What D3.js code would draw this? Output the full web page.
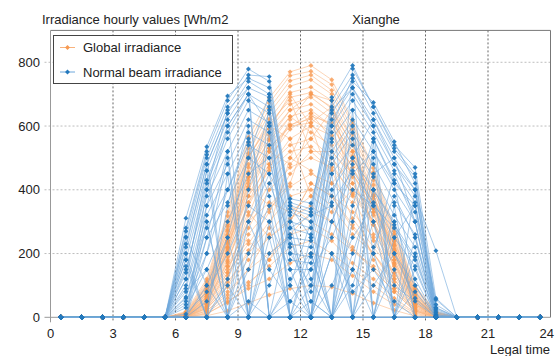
<!DOCTYPE html>
<html><head><meta charset="utf-8">
<script src="https://cdn.jsdelivr.net/npm/d3@7"></script>
<style>body{margin:0;background:#fff}svg{display:block;font-family:"Liberation Sans",Arial,sans-serif}</style>
</head><body><svg id="c" width="555" height="356"></svg>
<script>
const dayHours = [6.5,7.5,8.5,9.5,10.5,11.5,12.5,13.5,14.5,15.5,16.5,17.5,18.5];
const nightHours = [0.5,1.5,2.5,3.5,4.5,5.5,19.5,20.5,21.5,22.5,23.5];
const xTicks = [0,3,6,9,12,15,18,21,24];
const yTicks = [0,200,400,600,800];

const globalDays = [
[18,120,330,565,688,770,790,745,615,468,280,98,18],
[15,112,318,548,672,758,772,730,605,455,270,92,16],
[14,105,300,530,655,742,760,712,590,440,262,88,15],
[12,98,290,515,640,725,745,700,575,430,255,82,14],
[10,92,275,498,622,705,722,680,560,415,245,78,12],
[12,100,285,505,600,690,705,655,540,400,238,75,12],
[8,85,260,470,590,668,690,640,520,385,225,70,10],
[9,80,250,455,572,650,668,622,505,372,215,65,10],
[6,72,235,440,555,630,650,600,490,360,205,60,8],
[5,65,220,420,530,605,622,580,470,342,195,55,6],
[4,60,205,380,480,540,560,500,400,300,170,50,5],
[3,55,190,360,460,520,535,480,385,290,165,45,4],
[5,70,240,410,350,420,610,660,560,330,150,40,3],
[2,40,150,300,420,500,460,380,330,250,140,35,3],
[3,50,180,330,250,300,420,380,290,200,120,30,2],
[2,30,120,260,340,410,450,420,360,180,90,25,2],
[1,25,100,210,300,380,400,350,260,200,110,22,1],
[2,45,160,240,180,260,330,300,210,150,80,18,1],
[1,20,80,150,200,260,280,240,170,120,60,15,0],
[0,15,60,110,160,220,240,200,150,100,50,12,0],
[0,10,50,90,120,170,200,180,130,80,40,8,0],
[0,5,20,45,70,90,100,95,75,45,22,4,0],
[3,60,220,450,590,700,600,420,500,380,200,55,4],
[4,75,230,380,520,480,560,650,540,260,170,45,3],
[2,35,140,320,480,620,700,680,420,300,120,30,2],
[5,85,255,480,600,560,380,330,400,340,230,60,6],
[1,30,110,200,280,500,640,560,450,350,180,40,2],
[6,95,270,500,610,680,520,460,310,220,140,42,5],
[0,20,70,150,260,350,300,260,210,160,90,20,1],
[2,50,170,350,470,560,600,570,470,360,210,60,6],
[1,35,130,280,400,470,500,470,390,300,180,50,4],
[3,55,200,400,520,600,640,600,500,380,225,68,8],
[4,65,210,430,540,630,580,540,450,330,200,60,6],
[0,12,45,100,180,300,420,380,280,200,100,25,1],
[3,48,160,300,360,330,380,500,420,320,190,55,5],
[2,40,140,230,330,450,520,520,440,290,160,40,3],
[5,78,240,440,560,650,700,660,380,240,130,35,2],
[1,28,95,180,250,310,350,300,220,150,80,20,1],
[4,62,215,405,530,600,610,520,450,350,210,62,7],
[2,45,175,360,500,590,630,610,520,400,240,72,9]
];

const beamDays = [
[280,520,680,779,740,350,330,680,790,660,540,470,60],
[250,500,660,760,755,360,340,660,760,640,520,440,40],
[311,535,694,750,720,340,320,640,740,674,551,420,30],
[220,480,640,740,700,330,300,620,720,620,500,400,25],
[200,460,620,720,690,372,358,600,700,600,480,380,209],
[180,430,600,700,660,300,280,580,680,580,460,360,20],
[150,400,560,680,640,280,260,560,650,560,430,330,15],
[120,380,520,650,610,250,240,520,620,520,400,300,10],
[100,350,480,620,580,230,220,480,580,480,360,260,8],
[90,320,450,580,540,200,190,450,540,440,320,220,5],
[60,280,400,540,500,180,170,400,500,400,290,190,3],
[40,250,360,500,450,150,150,360,460,360,250,160,0],
[0,0,120,300,450,320,120,0,200,400,300,120,0],
[252,100,0,0,200,250,80,500,600,200,0,0,0],
[64,300,0,50,0,100,300,0,350,560,420,100,0],
[0,200,500,0,300,0,0,200,0,0,250,350,55],
[180,0,350,600,0,120,200,0,100,300,0,200,0],
[0,0,0,150,420,260,0,300,480,0,150,0,0],
[0,50,250,0,0,0,100,450,0,220,380,250,0],
[120,460,0,400,650,0,0,0,300,500,0,80,0],
[0,0,0,0,0,50,150,250,400,350,200,60,0],
[0,0,0,0,0,0,0,0,0,0,0,0,0],
[200,0,0,200,350,0,250,600,750,0,0,150,0],
[0,350,600,700,0,0,0,0,150,450,500,300,0],
[80,150,300,450,500,220,50,0,0,100,200,100,0],
[0,0,0,0,100,280,320,350,0,0,0,0,0],
[230,480,640,0,0,0,0,0,0,0,0,0,0],
[0,0,0,0,0,0,0,0,500,620,480,400,30],
[160,0,450,0,600,0,200,0,650,0,350,0,0],
[0,300,0,550,0,300,0,550,0,400,0,250,0],
[50,200,400,560,380,100,0,380,560,300,100,50,0],
[140,420,580,700,600,200,100,300,450,520,420,350,0],
[0,0,100,0,250,0,50,0,150,0,300,0,0],
[10,80,200,350,300,150,0,100,250,350,280,180,5],
[0,100,250,500,700,350,250,0,0,200,450,300,0],
[0,400,650,720,0,0,0,0,0,0,0,0,0],
[0,0,0,0,0,0,0,650,720,600,0,0,0],
[30,150,0,300,150,50,0,200,80,150,50,0,0],
[0,250,520,0,680,0,0,690,0,550,0,400,0],
[270,510,0,0,0,0,0,0,780,660,530,450,0]
];

const seriesNames = ["Global irradiance","Normal beam irradiance"];
const strokeCols = ["#f9b27c","#6fa8dc"];
const markCols = ["#f79a52","#2479bd"];

const svg = d3.select("#c");
const L = 50.5, R = 550.5, T = 30.4, B = 317.3;
const x = d3.scaleLinear().domain([0,24]).range([L,R]);
const y = d3.scaleLinear().domain([0,900]).range([B,T]);

// grid
svg.append("g").selectAll("line").data(yTicks.filter(d=>d>0)).join("line")
  .attr("x1",L-6).attr("x2",R).attr("y1",d=>y(d)).attr("y2",d=>y(d))
  .attr("stroke","#bdbdbd").attr("stroke-dasharray","2,2").attr("stroke-width",1);
svg.append("g").selectAll("line").data(xTicks.filter(d=>d>0&&d<24)).join("line")
  .attr("x1",d=>x(d)).attr("x2",d=>x(d)).attr("y1",T).attr("y2",B+5)
  .attr("stroke","#666").attr("stroke-dasharray","2,2").attr("stroke-width",1);

// frame
svg.append("line").attr("x1",L).attr("x2",R).attr("y1",T).attr("y2",T).attr("stroke","#777");
svg.append("line").attr("x1",R).attr("x2",R).attr("y1",T).attr("y2",B).attr("stroke","#777");
svg.append("line").attr("x1",L).attr("x2",L).attr("y1",T).attr("y2",B+5).attr("stroke","#999");
svg.append("line").attr("x1",L-6).attr("x2",R).attr("y1",B).attr("y2",B).attr("stroke","#999");

function build(vals){
  const pts = nightHours.map(h=>[h,0]).concat(dayHours.map((h,i)=>[h,vals[i]]));
  return pts.sort((a,b)=>a[0]-b[0]);
}
const line = d3.line().x(d=>x(d[0])).y(d=>y(d[1]));
const sym = d3.symbol().type(d3.symbolSquare).size(12);

[globalDays, beamDays].forEach((days,si)=>{
  const g = svg.append("g");
  const all = days.map(build);
  g.selectAll("path.l").data(all).join("path").attr("class","l")
    .attr("d",line).attr("fill","none").attr("stroke",strokeCols[si])
    .attr("stroke-width",1).attr("stroke-opacity",si?0.6:0.55);
  g.selectAll("path.m").data(all.flat()).join("path").attr("class","m")
    .attr("d",sym).attr("transform",d=>`translate(${x(d[0])},${y(d[1])}) rotate(45)`)
    .attr("fill",markCols[si]).attr("fill-opacity",si?0.95:0.8);
});

// axes labels
svg.append("g").selectAll("text").data(yTicks).join("text")
  .attr("x",40).attr("y",d=>y(d)+4.5).attr("text-anchor","end")
  .attr("font-size",13).attr("fill","#222").text(d=>d);
svg.append("g").selectAll("text").data(xTicks).join("text")
  .attr("x",d=>d===24?554:x(d)).attr("y",338).attr("text-anchor",d=>d===24?"end":"middle")
  .attr("font-size",13).attr("fill","#222").text(d=>d);
svg.append("text").attr("x",550).attr("y",354).attr("text-anchor","end")
  .attr("font-size",13).attr("fill","#222").text("Legal time");
svg.append("text").attr("x",42).attr("y",24)
  .attr("font-size",13).attr("fill","#222").text("Irradiance hourly values [Wh/m2");
svg.append("text").attr("x",376).attr("y",24).attr("text-anchor","middle")
  .attr("font-size",13).attr("fill","#222").text("Xianghe");

// legend
const lg = svg.append("g");
lg.append("rect").attr("x",53.5).attr("y",35.5).attr("width",179).attr("height",48)
  .attr("fill","#fff").attr("stroke","#444");
seriesNames.forEach((n,i)=>{
  const yy = 47.5 + i*24.5;
  lg.append("line").attr("x1",60).attr("x2",75).attr("y1",yy).attr("y2",yy)
    .attr("stroke",strokeCols[i]).attr("stroke-width",1);
  lg.append("path").attr("d",sym).attr("transform",`translate(67.5,${yy}) rotate(45)`).attr("fill",markCols[i]);
  lg.append("text").attr("x",83).attr("y",yy+4.5).attr("font-size",13).attr("fill","#222").text(n);
});
</script></body></html>
